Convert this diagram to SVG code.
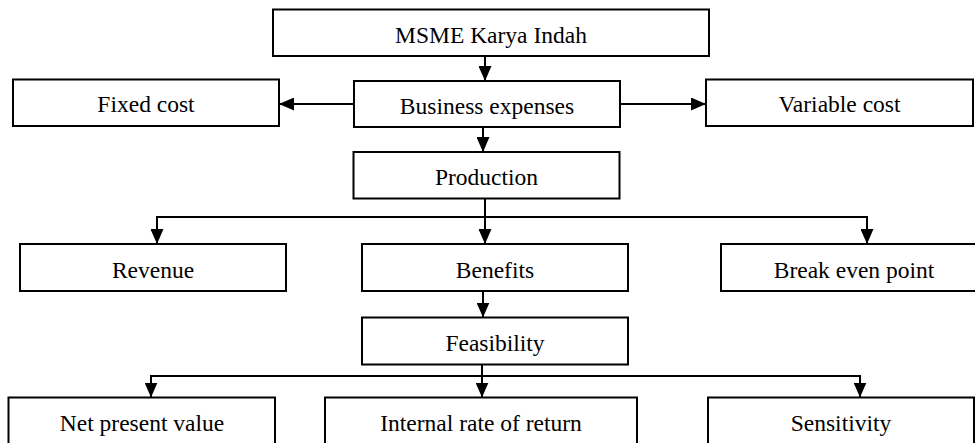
<svg xmlns="http://www.w3.org/2000/svg" width="975" height="443" viewBox="0 0 975 443">
<style>
.box{fill:#fff;stroke:#000;stroke-width:2}
.lbl{font-family:"Liberation Serif","Times New Roman",serif;font-size:23.5px;fill:#000;text-anchor:middle}
.con{fill:none;stroke:#000;stroke-width:2}
</style>
<defs>
<marker id="ah" markerUnits="userSpaceOnUse" markerWidth="15" markerHeight="13" refX="15" refY="6.5" orient="auto" viewBox="0 0 15 13">
<path d="M0,0 L15,6.5 L0,13 z" fill="#000"/>
</marker>
</defs>
<g id="connectors">
<line class="con" x1="485" y1="56" x2="485" y2="81" marker-end="url(#ah)"/>
<line class="con" x1="483" y1="127" x2="483" y2="152" marker-end="url(#ah)"/>
<line class="con" x1="354" y1="104" x2="279" y2="104" marker-end="url(#ah)"/>
<line class="con" x1="620" y1="104" x2="706" y2="104" marker-end="url(#ah)"/>
<polyline class="con" points="485,199 485,217"/>
<polyline class="con" points="157,244 157,217 867,217 867,244"/>
<line class="con" x1="157" y1="217" x2="157" y2="244" marker-end="url(#ah)"/>
<line class="con" x1="485" y1="217" x2="485" y2="244" marker-end="url(#ah)"/>
<line class="con" x1="867" y1="217" x2="867" y2="244" marker-end="url(#ah)"/>
<line class="con" x1="483" y1="291" x2="483" y2="317.5" marker-end="url(#ah)"/>
<polyline class="con" points="482,365 482,376"/>
<polyline class="con" points="151,397 151,376 860,376 860,397"/>
<line class="con" x1="151" y1="376" x2="151" y2="397.5" marker-end="url(#ah)"/>
<line class="con" x1="482" y1="376" x2="482" y2="397.5" marker-end="url(#ah)"/>
<line class="con" x1="860" y1="376" x2="860" y2="397.5" marker-end="url(#ah)"/>
</g>
<g id="msme"><rect class="box" x="273" y="9.5" width="436" height="46.5"/><text class="lbl" x="491" y="43">MSME Karya Indah</text></g>
<g id="fixed"><rect class="box" x="13" y="79.5" width="266" height="46.5"/><text class="lbl" x="146" y="112">Fixed cost</text></g>
<g id="business"><rect class="box" x="354" y="81" width="266" height="46"/><text class="lbl" x="487" y="113.5">Business expenses</text></g>
<g id="variable"><rect class="box" x="706" y="79.5" width="267" height="46.5"/><text class="lbl" x="839.5" y="112">Variable cost</text></g>
<g id="production"><rect class="box" x="353.5" y="152" width="266" height="46.5"/><text class="lbl" x="486.5" y="185">Production</text></g>
<g id="revenue"><rect class="box" x="20" y="244" width="266" height="47"/><text class="lbl" x="153" y="278">Revenue</text></g>
<g id="benefits"><rect class="box" x="362" y="244" width="266" height="47"/><text class="lbl" x="495" y="278">Benefits</text></g>
<g id="breakeven"><rect class="box" x="721" y="244" width="266" height="47"/><text class="lbl" x="854" y="278">Break even point</text></g>
<g id="feasibility"><rect class="box" x="362" y="317.5" width="266" height="47"/><text class="lbl" x="495" y="351">Feasibility</text></g>
<g id="npv"><rect class="box" x="8.5" y="397.5" width="266.5" height="60"/><text class="lbl" x="142" y="431">Net present value</text></g>
<g id="irr"><rect class="box" x="325" y="397.5" width="312" height="60"/><text class="lbl" x="481" y="431">Internal rate of return</text></g>
<g id="sensitivity"><rect class="box" x="708" y="397.5" width="266" height="60"/><text class="lbl" x="841" y="431">Sensitivity</text></g>
</svg>
